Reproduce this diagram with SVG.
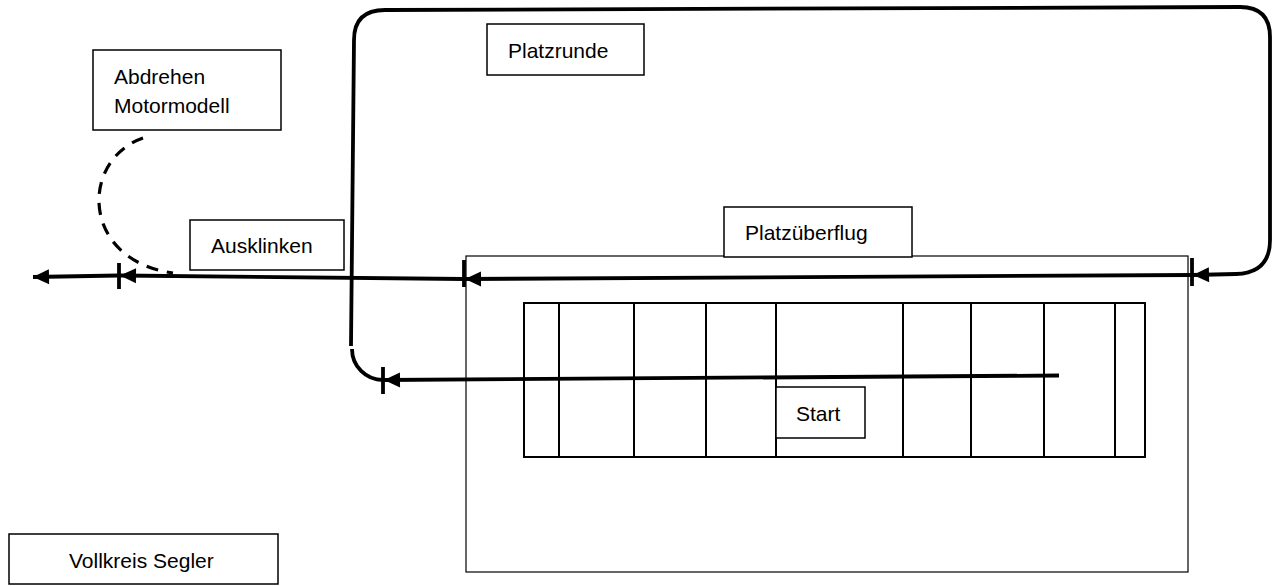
<svg xmlns="http://www.w3.org/2000/svg" width="1276" height="586" viewBox="0 0 1276 586">
<style>
.box{fill:#fff;stroke:#000;stroke-width:1.5}
.lbl{font-family:"Liberation Sans",Arial,sans-serif;font-size:21px;fill:#000}
.thin{fill:none;stroke:#000;stroke-width:1.2}
.grid{fill:none;stroke:#000;stroke-width:2}
.path{fill:none;stroke:#000;stroke-width:3.8;stroke-linecap:butt}
.tick{stroke:#000;stroke-width:3.8}
.dash{fill:none;stroke:#000;stroke-width:3.2;stroke-dasharray:12 9}
</style>
<defs>
<marker id="ah" markerUnits="userSpaceOnUse" markerWidth="18" markerHeight="18" refX="16" refY="0" viewBox="0 -9 18 18" orient="auto" overflow="visible">
<path d="M0,-7.5 L16,0 L0,7.5 z" fill="#000"/>
</marker>
</defs>
<rect fill="#fff" x="0" y="0" width="1276" height="586"/>
<g id="field">
<rect class="thin" x="466" y="256" width="722" height="316"/>
<rect class="grid" x="524" y="303" width="621" height="154"/>
<g class="grid">
<line x1="559" y1="303" x2="559" y2="457"/>
<line x1="634" y1="303" x2="634" y2="457"/>
<line x1="706" y1="303" x2="706" y2="457"/>
<line x1="776" y1="303" x2="776" y2="457"/>
<line x1="903" y1="303" x2="903" y2="457"/>
<line x1="971" y1="303" x2="971" y2="457"/>
<line x1="1044" y1="303" x2="1044" y2="457"/>
<line x1="1115" y1="303" x2="1115" y2="457"/>
</g>
</g>
<g id="connectors">
<path class="path" d="M1059,375.5 L384,380" marker-end="url(#ah)"/>
<path class="path" d="M383,380 A31,31 0 0 1 352,349"/>
<path class="path" d="M351,346 L354,40 Q354,10 385,10 L1240,7 Q1270,7 1270,37 L1270,240 Q1270,273 1236,274 L1193,275" marker-end="url(#ah)"/>
<path class="path" d="M1192,275 L465,279" marker-end="url(#ah)"/>
<path class="path" d="M464,279 L120,275.5" marker-end="url(#ah)"/>
<path class="path" d="M119,275.5 L33,277" marker-end="url(#ah)"/>
<path class="dash" d="M143,138 C80,160 80,260 173,273"/>
<line class="tick" x1="383" y1="367" x2="383" y2="394"/>
<line class="tick" x1="1192" y1="258" x2="1192" y2="286"/>
<line class="tick" x1="464" y1="260" x2="464" y2="287"/>
<line class="tick" x1="119" y1="263" x2="119" y2="289"/>
</g>
<g id="platzrunde">
<rect class="box" x="487" y="24" width="157" height="51"/>
<text class="lbl" x="508" y="58">Platzrunde</text>
</g>
<g id="abdrehen">
<rect class="box" x="93" y="50" width="188" height="80"/>
<text class="lbl" x="114" y="84">Abdrehen</text>
<text class="lbl" x="114" y="113">Motormodell</text>
</g>
<g id="ausklinken">
<rect class="box" x="190" y="220" width="154" height="50"/>
<text class="lbl" x="211" y="253">Ausklinken</text>
</g>
<g id="platzueberflug">
<rect class="box" x="724" y="207" width="188" height="50"/>
<text class="lbl" x="745" y="240">Platzüberflug</text>
</g>
<g id="start">
<rect class="box" x="776" y="387" width="89" height="51"/>
<text class="lbl" x="796" y="421">Start</text>
</g>
<g id="vollkreis">
<rect class="box" x="9" y="534" width="269" height="50"/>
<text class="lbl" x="69" y="568">Vollkreis Segler</text>
</g>
</svg>
